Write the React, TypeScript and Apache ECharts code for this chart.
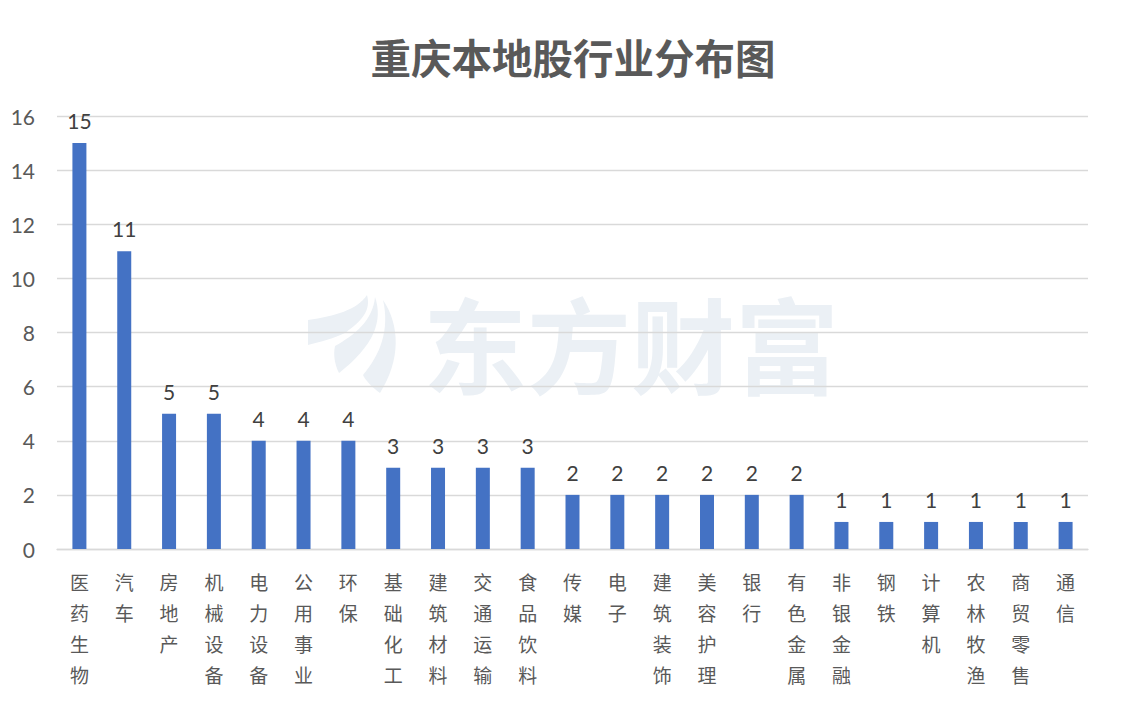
import React, { useEffect, useRef } from "react";
import * as echarts from "echarts";

const categories = [
  "医药生物", "汽车", "房地产", "机械设备", "电力设备", "公用事业", "环保",
  "基础化工", "建筑材料", "交通运输", "食品饮料", "传媒", "电子", "建筑装饰",
  "美容护理", "银行", "有色金属", "非银金融", "钢铁", "计算机", "农林牧渔",
  "商贸零售", "通信",
];
const values = [15, 11, 5, 5, 4, 4, 4, 3, 3, 3, 3, 2, 2, 2, 2, 2, 2, 1, 1, 1, 1, 1, 1];
const titleText = "重庆本地股行业分布图";
const watermarkText = "东方财富";

const bladeA = "M 13 40 C 40 36 62 30 72 15 C 76 30 68 40 50 53 C 40 58 25 62 13 65 Z";
const bladeB = "M 40 66 C 60 55 78 40 80 17 C 88 40 80 65 44 93 C 40 85 38 75 40 66 Z";
const bladeC = "M 88 20 C 105 45 106 80 85 113 C 78 108 70 100 68 95 C 85 75 95 50 88 20 Z";

let registered = false;
function registerShapes() {
  if (registered) return;
  registered = true;
  echarts.graphic.registerShape("bladeA", echarts.graphic.extendPath(bladeA, {}));
  echarts.graphic.registerShape("bladeB", echarts.graphic.extendPath(bladeB, {}));
  echarts.graphic.registerShape("bladeC", echarts.graphic.extendPath(bladeC, {}));
}

const CJK = "'Noto Sans CJK SC', 'Noto Sans', sans-serif";
const NUM = "Lato, 'Noto Sans CJK SC', sans-serif";

export default function App() {
  const ref = useRef<HTMLDivElement>(null);
  useEffect(() => {
    if (!ref.current) return;
    registerShapes();
    const chart = echarts.init(ref.current, undefined, { renderer: "svg" });
    const wmColor = "#ebf0f5";
    chart.setOption({
      animation: false,
      backgroundColor: "#ffffff",
      title: {
        text: titleText,
        left: "center",
        top: 31,
        textStyle: { fontSize: 40.5, fontWeight: "bold", color: "#595959", fontFamily: CJK },
      },
      graphic: [
        {
          type: "group",
          z: -10,
          silent: true,
          children: [
            { type: "bladeA", x: 295, y: 280, z: -10, style: { fill: wmColor } },
            { type: "bladeB", x: 295, y: 280, z: -10, style: { fill: wmColor } },
            { type: "bladeC", x: 295, y: 280, z: -10, style: { fill: wmColor } },
            {
              type: "text",
              x: 631,
              y: 341,
              z: -10,
              style: {
                text: watermarkText,
                fontSize: 104,
                fontWeight: "bold",
                fontFamily: CJK,
                fill: wmColor,
                align: "center",
                verticalAlign: "middle",
              },
            },
          ],
        },
      ],
      grid: { left: 57, right: 58, top: 116, bottom: 153, containLabel: false },
      xAxis: {
        type: "category",
        data: categories,
        axisLine: { lineStyle: { color: "#d9d9d9", width: 1.3 } },
        axisTick: { show: false },
        axisLabel: {
          interval: 0,
          margin: 17,
          fontSize: 19,
          lineHeight: 31,
          color: "#595959",
          fontFamily: CJK,
          verticalAlign: "top",
          formatter: (v: string) => v.split("").join("\n"),
        },
      },
      yAxis: {
        type: "value",
        min: 0,
        max: 16,
        interval: 2,
        axisLine: { show: false },
        axisTick: { show: false },
        axisLabel: { fontSize: 21, color: "#595959", margin: 22, fontFamily: NUM },
        splitLine: { lineStyle: { color: "#d9d9d9", width: 1.3 } },
      },
      series: [
        {
          type: "bar",
          data: values,
          barWidth: 14,
          itemStyle: { color: "#4472C4" },
          label: {
            show: true,
            position: "top",
            distance: 12,
            fontSize: 21,
            color: "#404040",
            fontFamily: NUM,
          },
        },
      ],
    });
    return () => chart.dispose();
  }, []);
  return <div ref={ref} style={{ width: 1146, height: 702, position: "absolute", left: 0, top: 0 }} />;
}
